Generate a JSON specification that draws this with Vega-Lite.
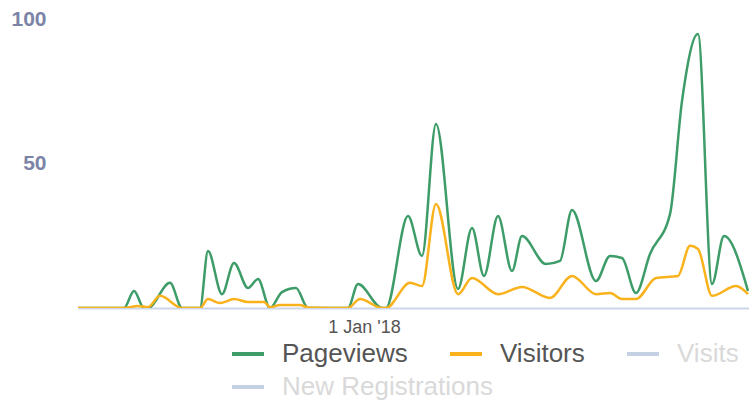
{
  "$schema": "https://vega.github.io/schema/vega-lite/v6.json",
  "width": 671,
  "height": 289,
  "autosize": {"type": "none"},
  "padding": {"left": 78, "top": 19, "right": 0, "bottom": 93},
  "background": "white",
  "config": {"view": {"stroke": null}},
  "data": {
    "values": [
      {"date": "2017-08-11", "series": "Pageviews", "value": 0},
      {"date": "2017-09-03", "series": "Pageviews", "value": 0},
      {"date": "2017-09-08", "series": "Pageviews", "value": 5.9},
      {"date": "2017-09-13", "series": "Pageviews", "value": 0},
      {"date": "2017-09-15", "series": "Pageviews", "value": 0},
      {"date": "2017-09-26", "series": "Pageviews", "value": 8.7},
      {"date": "2017-10-02", "series": "Pageviews", "value": 0},
      {"date": "2017-10-11", "series": "Pageviews", "value": 0},
      {"date": "2017-10-15", "series": "Pageviews", "value": 19.7},
      {"date": "2017-10-22", "series": "Pageviews", "value": 4.8},
      {"date": "2017-10-28", "series": "Pageviews", "value": 15.6},
      {"date": "2017-11-04", "series": "Pageviews", "value": 6.9},
      {"date": "2017-11-09", "series": "Pageviews", "value": 10},
      {"date": "2017-11-15", "series": "Pageviews", "value": 0},
      {"date": "2017-11-21", "series": "Pageviews", "value": 5.5},
      {"date": "2017-11-28", "series": "Pageviews", "value": 6.9},
      {"date": "2017-12-04", "series": "Pageviews", "value": 0},
      {"date": "2017-12-24", "series": "Pageviews", "value": 0},
      {"date": "2017-12-29", "series": "Pageviews", "value": 8.3},
      {"date": "2018-01-10", "series": "Pageviews", "value": 0},
      {"date": "2018-01-12", "series": "Pageviews", "value": 0},
      {"date": "2018-01-23", "series": "Pageviews", "value": 31.8},
      {"date": "2018-01-30", "series": "Pageviews", "value": 18},
      {"date": "2018-02-06", "series": "Pageviews", "value": 63.7},
      {"date": "2018-02-17", "series": "Pageviews", "value": 6.6},
      {"date": "2018-02-24", "series": "Pageviews", "value": 27.7},
      {"date": "2018-03-02", "series": "Pageviews", "value": 11.1},
      {"date": "2018-03-09", "series": "Pageviews", "value": 31.8},
      {"date": "2018-03-16", "series": "Pageviews", "value": 12.8},
      {"date": "2018-03-21", "series": "Pageviews", "value": 24.9},
      {"date": "2018-04-02", "series": "Pageviews", "value": 15.2},
      {"date": "2018-04-09", "series": "Pageviews", "value": 16.3},
      {"date": "2018-04-15", "series": "Pageviews", "value": 33.9},
      {"date": "2018-04-27", "series": "Pageviews", "value": 9.3},
      {"date": "2018-05-04", "series": "Pageviews", "value": 18},
      {"date": "2018-05-10", "series": "Pageviews", "value": 17.3},
      {"date": "2018-05-17", "series": "Pageviews", "value": 5.2},
      {"date": "2018-05-24", "series": "Pageviews", "value": 18.7},
      {"date": "2018-06-03", "series": "Pageviews", "value": 32.5},
      {"date": "2018-06-09", "series": "Pageviews", "value": 71.6},
      {"date": "2018-06-17", "series": "Pageviews", "value": 94.8},
      {"date": "2018-06-24", "series": "Pageviews", "value": 8.3},
      {"date": "2018-06-30", "series": "Pageviews", "value": 24.9},
      {"date": "2018-07-12", "series": "Pageviews", "value": 5.9},
      {"date": "2017-08-11", "series": "Visitors", "value": 0},
      {"date": "2017-09-03", "series": "Visitors", "value": 0},
      {"date": "2017-09-10", "series": "Visitors", "value": 0.7},
      {"date": "2017-09-15", "series": "Visitors", "value": 0.3},
      {"date": "2017-09-21", "series": "Visitors", "value": 4.2},
      {"date": "2017-10-02", "series": "Visitors", "value": 0},
      {"date": "2017-10-11", "series": "Visitors", "value": 0},
      {"date": "2017-10-15", "series": "Visitors", "value": 3.1},
      {"date": "2017-10-21", "series": "Visitors", "value": 1.7},
      {"date": "2017-10-28", "series": "Visitors", "value": 3.1},
      {"date": "2017-11-04", "series": "Visitors", "value": 2.1},
      {"date": "2017-11-12", "series": "Visitors", "value": 2.1},
      {"date": "2017-11-15", "series": "Visitors", "value": 0.3},
      {"date": "2017-11-20", "series": "Visitors", "value": 1},
      {"date": "2017-11-30", "series": "Visitors", "value": 1},
      {"date": "2017-12-04", "series": "Visitors", "value": 0.2},
      {"date": "2017-12-24", "series": "Visitors", "value": 0},
      {"date": "2017-12-30", "series": "Visitors", "value": 3.1},
      {"date": "2018-01-10", "series": "Visitors", "value": 0},
      {"date": "2018-01-12", "series": "Visitors", "value": 0},
      {"date": "2018-01-24", "series": "Visitors", "value": 8.7},
      {"date": "2018-01-30", "series": "Visitors", "value": 7.6},
      {"date": "2018-02-06", "series": "Visitors", "value": 36},
      {"date": "2018-02-17", "series": "Visitors", "value": 4.8},
      {"date": "2018-02-24", "series": "Visitors", "value": 10.4},
      {"date": "2018-03-09", "series": "Visitors", "value": 4.8},
      {"date": "2018-03-21", "series": "Visitors", "value": 7.3},
      {"date": "2018-04-04", "series": "Visitors", "value": 3.5},
      {"date": "2018-04-15", "series": "Visitors", "value": 11.1},
      {"date": "2018-04-27", "series": "Visitors", "value": 4.8},
      {"date": "2018-05-04", "series": "Visitors", "value": 5.2},
      {"date": "2018-05-10", "series": "Visitors", "value": 3.1},
      {"date": "2018-05-17", "series": "Visitors", "value": 3.1},
      {"date": "2018-05-27", "series": "Visitors", "value": 10.4},
      {"date": "2018-06-07", "series": "Visitors", "value": 11.1},
      {"date": "2018-06-13", "series": "Visitors", "value": 21.5},
      {"date": "2018-06-17", "series": "Visitors", "value": 20.4},
      {"date": "2018-06-24", "series": "Visitors", "value": 4.2},
      {"date": "2018-07-06", "series": "Visitors", "value": 7.6},
      {"date": "2018-07-12", "series": "Visitors", "value": 4.8}
    ]
  },
  "encoding": {
    "x": {
      "field": "date",
      "type": "temporal",
      "scale": {"type": "utc", "domain": ["2017-08-11T00:00:00Z", "2018-07-12T12:00:00Z"]},
      "axis": {
        "title": null,
        "values": ["2018-01-01T00:00:00Z"],
        "labelExpr": "utcFormat(datum.value, \"%-d %b '%y\")",
        "grid": false,
        "ticks": false,
        "domainColor": "#ccd6eb",
        "domainWidth": 2,
        "labelFont": "Liberation Sans",
        "labelFontSize": 18,
        "labelColor": "#555555",
        "labelPadding": 10
      }
    },
    "y": {
      "field": "value",
      "type": "quantitative",
      "scale": {"domain": [0, 100], "nice": false},
      "axis": {
        "title": null,
        "values": [50, 100],
        "grid": false,
        "ticks": false,
        "domain": false,
        "labelFont": "Liberation Sans",
        "labelFontWeight": "bold",
        "labelFontSize": 21,
        "labelColor": "#7b84a6",
        "labelPadding": 32
      }
    }
  },
  "layer": [
    {
      "mark": {"type": "line", "interpolate": "monotone", "strokeWidth": 2.5, "clip": true},
      "encoding": {
        "color": {
          "field": "series",
          "type": "nominal",
          "scale": {
            "domain": ["Pageviews", "Visitors", "Visits"],
            "range": ["#3d9c68", "#f9b21c", "#c3d1e2"]
          },
          "legend": {
            "title": null,
            "orient": "none",
            "legendX": 152,
            "legendY": 317,
            "direction": "horizontal",
            "columnPadding": 34,
            "symbolType": "stroke",
            "symbolSize": 1024,
            "symbolStrokeWidth": 4,
            "labelOffset": 16,
            "labelFont": "Liberation Sans",
            "labelFontSize": 26,
            "labelColor": "#555555",
            "labelLimit": 400,
            "encode": {
              "labels": {
                "update": {
                  "fill": [
                    {"test": "datum.value === 'Visits'", "value": "#d9d9d9"},
                    {"value": "#555555"}
                  ]
                }
              }
            }
          }
        }
      }
    },
    {
      "transform": [{"filter": "datum.series === 'New Registrations'"}],
      "mark": {"type": "line", "interpolate": "monotone", "strokeWidth": 2.5, "clip": true, "color": "#c3d1e2"},
      "encoding": {
        "strokeDash": {
          "field": "series",
          "type": "nominal",
          "scale": {"domain": ["New Registrations"], "range": [[1, 0]]},
          "legend": {
            "title": null,
            "orient": "none",
            "legendX": 152,
            "legendY": 350,
            "direction": "horizontal",
            "symbolType": "stroke",
            "symbolSize": 1024,
            "symbolStrokeWidth": 4,
            "symbolStrokeColor": "#c3d1e2",
            "symbolDash": [1, 0],
            "labelOffset": 16,
            "labelFont": "Liberation Sans",
            "labelFontSize": 26,
            "labelColor": "#d9d9d9",
            "labelLimit": 400
          }
        }
      }
    }
  ]
}
